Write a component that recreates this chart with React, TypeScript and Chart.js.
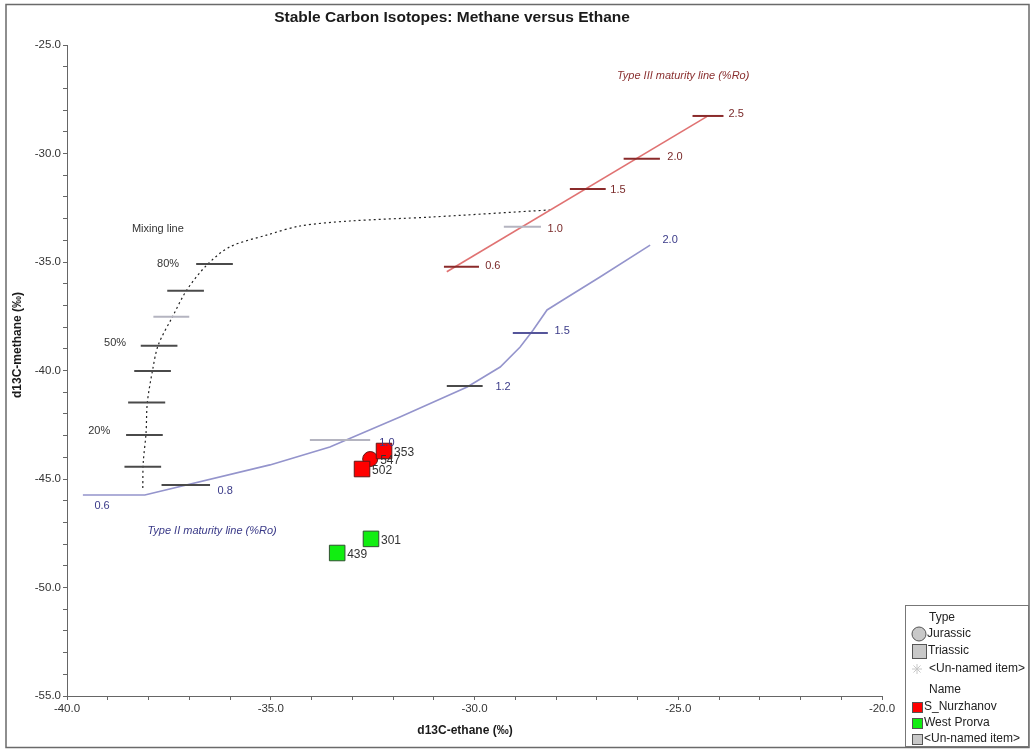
import React, { useEffect, useRef } from 'react';
import { Chart, registerables } from 'chart.js';
Chart.register(...registerables);

const FONT = '"Liberation Sans", Arial, Helvetica, sans-serif';

// ---- Samples ----
const sampleNames = ['353', '547', '502', '301', '439'];
const sampleEthane = [-32.22, -32.56, -32.76, -32.54, -33.37];
const sampleMethane = [-43.71, -44.08, -44.54, -47.76, -48.41];
const sampleGroup = ['S_Nurzhanov', 'S_Nurzhanov', 'S_Nurzhanov', 'West Prorva', 'West Prorva'];
const sampleType = ['Triassic', 'Jurassic', 'Triassic', 'Triassic', 'Triassic'];

// ---- Type II maturity line ----
const typeIIEthane = [-39.61, -38.09, -35.02, -33.55, -31.83, -30.18, -29.37, -28.88, -28.56, -28.22, -27.83, -26.92, -25.69];
const typeIIMethane = [-45.74, -45.74, -44.35, -43.53, -42.14, -40.76, -39.84, -38.92, -38.13, -37.21, -36.75, -35.69, -34.22];
const typeIIRo = ['0.6', '0.8', '1.0', '1.2', '1.5', '2.0'];
const typeIIRoEthane = [-39.14, -36.12, -32.15, -29.30, -27.85, -25.20];
const typeIIRoMethane = [-46.24, -45.55, -43.34, -40.76, -38.18, -33.99];
const typeIITickFrom = [-37.68, -34.04, -30.68, -29.06];
const typeIITickTo = [-36.49, -32.56, -29.80, -28.20];
const typeIITickY = [-45.28, -43.20, -40.71, -38.27];
const typeIITickTone = ['dark', 'light', 'dark', 'blue'];

// ---- Type III maturity line ----
const typeIIIEthane = [-30.68, -24.30];
const typeIIIMethane = [-35.45, -28.30];
const typeIIIRo = ['0.6', '1.0', '1.5', '2.0', '2.5'];
const typeIIIRoEthane = [-29.55, -28.02, -26.48, -25.08, -23.58];
const typeIIIRoMethane = [-35.18, -33.48, -31.68, -30.16, -28.18];
const typeIIITickFrom = [-30.75, -29.28, -27.66, -26.34, -24.65];
const typeIIITickTo = [-29.89, -28.37, -26.78, -25.45, -23.89];
const typeIIITickY = [-35.22, -33.37, -31.64, -30.24, -28.27];
const typeIIITickTone = ['red', 'light', 'red', 'red', 'red'];

// ---- Mixing line ----
const mixEthane = [-38.14, -38.13, -38.06, -38.03, -37.90, -37.76, -37.41, -37.06, -36.57, -36.00, -35.10, -34.28, -33.06, -31.09, -28.15];
const mixMethane = [-45.41, -44.26, -42.88, -41.50, -39.98, -38.82, -37.52, -36.29, -35.14, -34.30, -33.76, -33.34, -33.11, -32.93, -32.60];
const mixTickFrom = [-36.83, -37.54, -37.88, -38.19, -38.35, -38.50, -38.55, -38.59];
const mixTickTo = [-35.93, -36.64, -37.00, -37.29, -37.45, -37.59, -37.65, -37.69];
const mixTickY = [-35.09, -36.32, -37.52, -38.86, -40.02, -41.48, -42.97, -44.43];
const mixTickTone = ['dark', 'dark', 'light', 'dark', 'dark', 'dark', 'dark', 'dark'];
const mixLabels = ['Mixing line', '80%', '50%', '20%'];
const mixLabelEthane = [-37.77, -37.52, -38.82, -39.21];
const mixLabelMethane = [-33.48, -35.09, -38.73, -42.79];

// ---- Line captions ----
const captions = ['Type II maturity line (%Ro)', 'Type III maturity line (%Ro)'];
const captionEthane = [-36.44, -24.88];
const captionMethane = [-47.40, -26.43];

const xMin = -40, xMax = -20, yMin = -55, yMax = -25;

const toneColor: Record<string, string> = {
  dark: '#4a4a4a',
  light: '#b4b4c0',
  blue: '#55559a',
  red: '#8a2a2a',
};

const groupFill: Record<string, string> = { 'S_Nurzhanov': '#ff0000', 'West Prorva': '#11ee11' };

export default function App() {
  const ref = useRef<HTMLCanvasElement>(null);

  useEffect(() => {
    const canvas = ref.current!;
    const datasets: any[] = [];

    const seg = (a: number, b: number, y: number, color: string) => ({
      type: 'scatter',
      data: [{ x: a, y }, { x: b, y }],
      showLine: true,
      borderColor: color,
      borderWidth: 2,
      pointRadius: 0,
      order: 5,
    });

    // Lines
    datasets.push({
      type: 'scatter',
      data: typeIIEthane.map((x, i) => ({ x, y: typeIIMethane[i] })),
      showLine: true, borderColor: '#9494cc', borderWidth: 1.6, pointRadius: 0, order: 6,
    });
    datasets.push({
      type: 'scatter',
      data: typeIIIEthane.map((x, i) => ({ x, y: typeIIIMethane[i] })),
      showLine: true, borderColor: '#e07272', borderWidth: 1.6, pointRadius: 0, order: 6,
    });
    datasets.push({
      type: 'scatter',
      data: mixEthane.map((x, i) => ({ x, y: mixMethane[i] })),
      showLine: true, borderColor: '#222', borderWidth: 1.2, borderDash: [2, 3], pointRadius: 0,
      tension: 0.3, order: 6,
    });
    typeIITickY.forEach((y, i) => datasets.push(seg(typeIITickFrom[i], typeIITickTo[i], y, toneColor[typeIITickTone[i]])));
    typeIIITickY.forEach((y, i) => datasets.push(seg(typeIIITickFrom[i], typeIIITickTo[i], y, toneColor[typeIIITickTone[i]])));
    mixTickY.forEach((y, i) => datasets.push(seg(mixTickFrom[i], mixTickTo[i], y, toneColor[mixTickTone[i]])));

    // Samples
    sampleNames.forEach((n, i) => {
      const isCircle = sampleType[i] === 'Jurassic';
      datasets.push({
        type: 'scatter',
        label: n,
        data: [{ x: sampleEthane[i], y: sampleMethane[i] }],
        pointStyle: isCircle ? 'circle' : 'rect',
        pointRadius: isCircle ? 7.5 : 11,
        backgroundColor: groupFill[sampleGroup[i]],
        borderColor: sampleGroup[i] === 'West Prorva' ? '#305030' : '#601818',
        borderWidth: 1,
        order: isCircle ? 2 : 1,
      });
    });

    const text = (ctx: CanvasRenderingContext2D, s: string, x: number, y: number, font: string, color: string, align: CanvasTextAlign = 'left') => {
      ctx.font = font;
      ctx.fillStyle = color;
      ctx.textAlign = align;
      ctx.textBaseline = 'middle';
      ctx.fillText(s, x, y);
    };

    const decor = {
      id: 'decor',
      beforeDraw(chart: any) {
        const ctx = chart.ctx as CanvasRenderingContext2D;
        ctx.save();
        ctx.fillStyle = '#fff';
        ctx.fillRect(0, 0, chart.width, chart.height);
        ctx.strokeStyle = '#6a6a6a';
        ctx.lineWidth = 1.5;
        ctx.strokeRect(6, 4.5, chart.width - 7, chart.height - 6);
        ctx.restore();
      },
      afterDatasetsDraw(chart: any) {
        const ctx = chart.ctx as CanvasRenderingContext2D;
        const xs = chart.scales.x, ys = chart.scales.y;
        const px = (v: number) => xs.getPixelForValue(v);
        const py = (v: number) => ys.getPixelForValue(v);
        ctx.save();
        const f11 = `11px ${FONT}`;
        const fi11 = `italic 11px ${FONT}`;
        typeIIRo.forEach((s, i) => text(ctx, s, px(typeIIRoEthane[i]), py(typeIIRoMethane[i]), f11, '#3a3a88', 'center'));
        typeIIIRo.forEach((s, i) => text(ctx, s, px(typeIIIRoEthane[i]), py(typeIIIRoMethane[i]), f11, '#7a2a2a', 'center'));
        mixLabels.forEach((s, i) => text(ctx, s, px(mixLabelEthane[i]), py(mixLabelMethane[i]), f11, '#333', 'center'));
        text(ctx, captions[0], px(captionEthane[0]), py(captionMethane[0]), fi11, '#3a3a88', 'center');
        text(ctx, captions[1], px(captionEthane[1]), py(captionMethane[1]), fi11, '#8a3030', 'center');
        sampleNames.forEach((s, i) => {
          text(ctx, s, px(sampleEthane[i]) + 10, py(sampleMethane[i]) + 2, `12px ${FONT}`, '#333', 'left');
        });
        ctx.restore();
      },
      afterDraw(chart: any) {
        const ctx = chart.ctx as CanvasRenderingContext2D;
        ctx.save();
        // title
        text(ctx, 'Stable Carbon Isotopes: Methane versus Ethane', 452, 18, `bold 15.5px ${FONT}`, '#1a1a1a', 'center');
        // axis titles
        text(ctx, 'd13C-ethane (‰)', 465, 731, `bold 12px ${FONT}`, '#1a1a1a', 'center');
        ctx.save();
        ctx.translate(18, 345);
        ctx.rotate(-Math.PI / 2);
        text(ctx, 'd13C-methane (‰)', 0, 0, `bold 12px ${FONT}`, '#1a1a1a', 'center');
        ctx.restore();

        // legend
        const lx = 905, ly = 605, lw = 123, lh = 141;
        ctx.fillStyle = '#fff';
        ctx.fillRect(lx, ly, lw, lh);
        ctx.strokeStyle = '#777';
        ctx.lineWidth = 1;
        ctx.strokeRect(lx + 0.5, ly + 0.5, lw, lh);
        const f = `12px ${FONT}`;
        const col = '#222';
        text(ctx, 'Type', 929, 618, f, col);
        // circle
        ctx.beginPath();
        ctx.arc(919, 634, 7, 0, Math.PI * 2);
        ctx.fillStyle = '#c8c8c8';
        ctx.fill();
        ctx.strokeStyle = '#555';
        ctx.stroke();
        text(ctx, 'Jurassic', 927, 634, f, col);
        ctx.fillStyle = '#c8c8c8';
        ctx.fillRect(912, 644, 14, 14);
        ctx.strokeStyle = '#555';
        ctx.strokeRect(912.5, 644.5, 14, 14);
        text(ctx, 'Triassic', 928, 651, f, col);
        // asterisk
        ctx.strokeStyle = '#c8c8c8';
        ctx.beginPath();
        for (let k = 0; k < 4; k++) {
          const a = (k * Math.PI) / 4;
          ctx.moveTo(917 - 5 * Math.cos(a), 669 - 5 * Math.sin(a));
          ctx.lineTo(917 + 5 * Math.cos(a), 669 + 5 * Math.sin(a));
        }
        ctx.stroke();
        text(ctx, '<Un-named item>', 929, 669, f, col);
        text(ctx, 'Name', 929, 690, f, col);
        const sw = (y: number, c: string) => {
          ctx.fillStyle = c;
          ctx.fillRect(912, y - 5, 10, 10);
          ctx.strokeStyle = '#555';
          ctx.strokeRect(912.5, y - 4.5, 10, 10);
        };
        sw(707, '#ff0000');
        text(ctx, 'S_Nurzhanov', 924, 707, f, col);
        sw(723, '#11ee11');
        text(ctx, 'West Prorva', 924, 723, f, col);
        sw(739, '#c8c8c8');
        text(ctx, '<Un-named item>', 924, 739, f, col);
        ctx.restore();
      },
    };

    const tickCb = (v: any) => (Math.abs(Number(v) % 5) < 1e-6 ? Number(v).toFixed(1) : '');

    const chart = new Chart(canvas, {
      type: 'scatter',
      data: { datasets },
      options: {
        animation: false,
        responsive: false,
        devicePixelRatio: 1,
        layout: { padding: { left: 0, top: 45, right: 148, bottom: 0 } },
        plugins: { legend: { display: false }, tooltip: { enabled: false }, title: { display: false } },
        scales: {
          x: {
            type: 'linear', min: xMin, max: xMax,
            border: { display: true, color: '#666', width: 1 },
            grid: { drawOnChartArea: false, drawTicks: true, tickLength: 4, color: '#666' },
            ticks: { stepSize: 1, autoSkip: false, maxRotation: 0, callback: tickCb, color: '#333', padding: 2, font: { family: FONT, size: 11.5 } },
            afterFit: (s: any) => { s.height = 53; },
          },
          y: {
            type: 'linear', min: yMin, max: yMax,
            border: { display: true, color: '#666', width: 1 },
            grid: { drawOnChartArea: false, drawTicks: true, tickLength: 4, color: '#666' },
            ticks: { stepSize: 1, autoSkip: false, callback: tickCb, color: '#333', padding: 2, font: { family: FONT, size: 11.5 } },
            afterFit: (s: any) => { s.width = 67; },
          },
        },
      } as any,
      plugins: [decor],
    });
    return () => chart.destroy();
  }, []);

  return (
    <div style={{ position: 'absolute', left: 0, top: 0, width: 1030, height: 749 }}>
      <canvas ref={ref} width={1030} height={749} style={{ display: 'block', width: 1030, height: 749 }} />
    </div>
  );
}
